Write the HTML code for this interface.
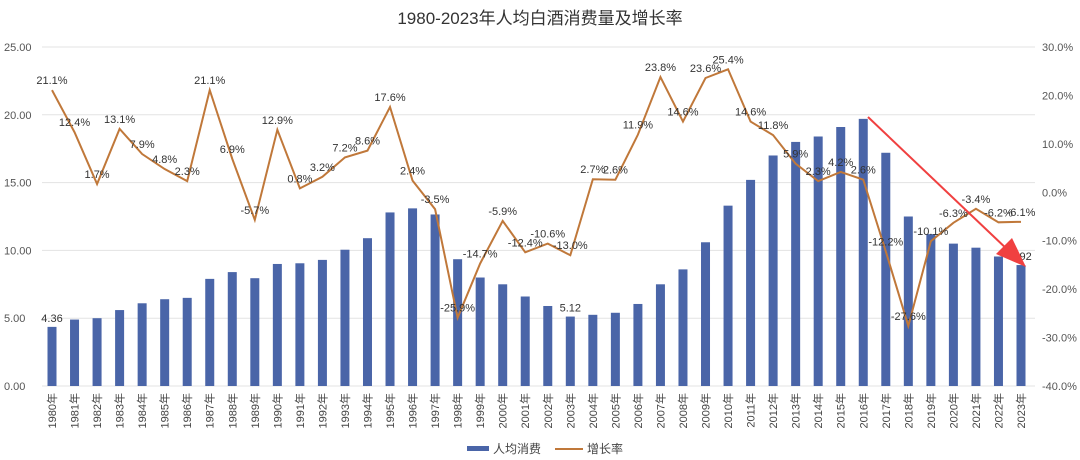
<!DOCTYPE html>
<html><head><meta charset="utf-8">
<style>
html,body{margin:0;padding:0;background:#fff;}
svg{display:block;font-family:"Liberation Sans","Noto Sans CJK SC",sans-serif;}
</style></head>
<body>
<svg id="chart" width="1080" height="460" viewBox="0 0 1080 460">
<text x="540" y="24" text-anchor="middle" font-size="17" fill="#333">1980-2023年人均白酒消费量及增长率</text>
<g id="grid"></g><g id="bars"></g><g id="line"></g><g id="labels"></g><g id="axes"></g>
<g>
<line x1="868" y1="117" x2="1010" y2="252" stroke="#f04040" stroke-width="2"/>
<polygon points="1026,267 996,254 1012,238" fill="#f04040"/>
</g>
<g>
<rect x="467" y="446" width="22" height="5" fill="#4a65a8"/>
<text x="493" y="453" font-size="12" fill="#444">人均消费</text>
<line x1="555" y1="449" x2="583" y2="449" stroke="#c0783a" stroke-width="2"/>
<text x="587" y="453" font-size="12" fill="#444">增长率</text>
</g>
</svg>
<script>
const years=[1980,1981,1982,1983,1984,1985,1986,1987,1988,1989,1990,1991,1992,1993,1994,1995,1996,1997,1998,1999,2000,2001,2002,2003,2004,2005,2006,2007,2008,2009,2010,2011,2012,2013,2014,2015,2016,2017,2018,2019,2020,2021,2022,2023];
const consumption=[4.36,4.9,5.0,5.6,6.1,6.4,6.5,7.9,8.4,7.95,9.0,9.05,9.3,10.05,10.9,12.8,13.1,12.65,9.35,8.0,7.5,6.6,5.9,5.12,5.25,5.4,6.05,7.5,8.6,10.6,13.3,15.2,17.0,18.0,18.4,19.1,19.7,17.2,12.5,11.2,10.5,10.2,9.55,8.92];
const growth=[21.1,12.4,1.7,13.1,7.9,4.8,2.3,21.1,6.9,-5.7,12.9,0.8,3.2,7.2,8.6,17.6,2.4,-3.5,-25.9,-14.7,-5.9,-12.4,-10.6,-13.0,2.7,2.6,11.9,23.8,14.6,23.6,25.4,14.6,11.8,5.9,2.3,4.2,2.6,-12.2,-27.6,-10.1,-6.3,-3.4,-6.2,-6.1];
const leftTicks=[0,5,10,15,20,25];
const rightTicks=[-40,-30,-20,-10,0,10,20,30];
const NS="http://www.w3.org/2000/svg";
const plotTop=47,plotBot=386,x0=52,x1=1021;
const yL=v=>plotBot-(v/25)*(plotBot-plotTop);
const yR=v=>plotBot-((v+40)/70)*(plotBot-plotTop);
const xS=i=>x0+i*(x1-x0)/(years.length-1);
function mk(t,a,p){const e=document.createElementNS(NS,t);for(const k in a)e.setAttribute(k,a[k]);document.getElementById(p).appendChild(e);return e;}
leftTicks.forEach(v=>{
 const g=mk('line',{x1:42,x2:1035,y1:yL(v),y2:yL(v),stroke:'#e3e3e3','stroke-width':1},'grid');
 
 
 const t=mk('text',{x:4,y:yL(v)+4,'font-size':11,fill:'#555'},'axes');t.textContent=v.toFixed(2);
 
 
});
rightTicks.forEach(v=>{
 const t=mk('text',{x:1042,y:yR(v)+4,'font-size':11,fill:'#555'},'axes');t.textContent=v.toFixed(1)+'%';
 
 
});
years.forEach((y,i)=>{
 const b=mk('rect',{x:xS(i)-4.5,y:yL(consumption[i]),width:9,height:plotBot-yL(consumption[i]),fill:'#4a65a8'},'bars');
 
 
 const t=mk('text',{transform:`translate(${xS(i)+4},393) rotate(-90)`,'text-anchor':'end','font-size':11,fill:'#444'},'axes');t.textContent=y+'年';
 
 
 const l=mk('text',{x:xS(i),y:yR(growth[i])-6,'text-anchor':'middle','font-size':11,fill:'#333'},'labels');
 l.textContent=growth[i].toFixed(1)+'%';
 
 
});
[[0,'4.36'],[23,'5.12'],[43,'8.92']].forEach(([i,s])=>{
 const t=mk('text',{x:xS(i),y:yL(consumption[i])-5,'text-anchor':'middle','font-size':11,fill:'#333'},'labels');t.textContent=s;
 
 
});
const p=mk('polyline',{points:growth.map((g,i)=>xS(i)+','+yR(g)).join(' '),fill:'none',stroke:'#c0783a','stroke-width':2},'line');


</script>
</body></html>
